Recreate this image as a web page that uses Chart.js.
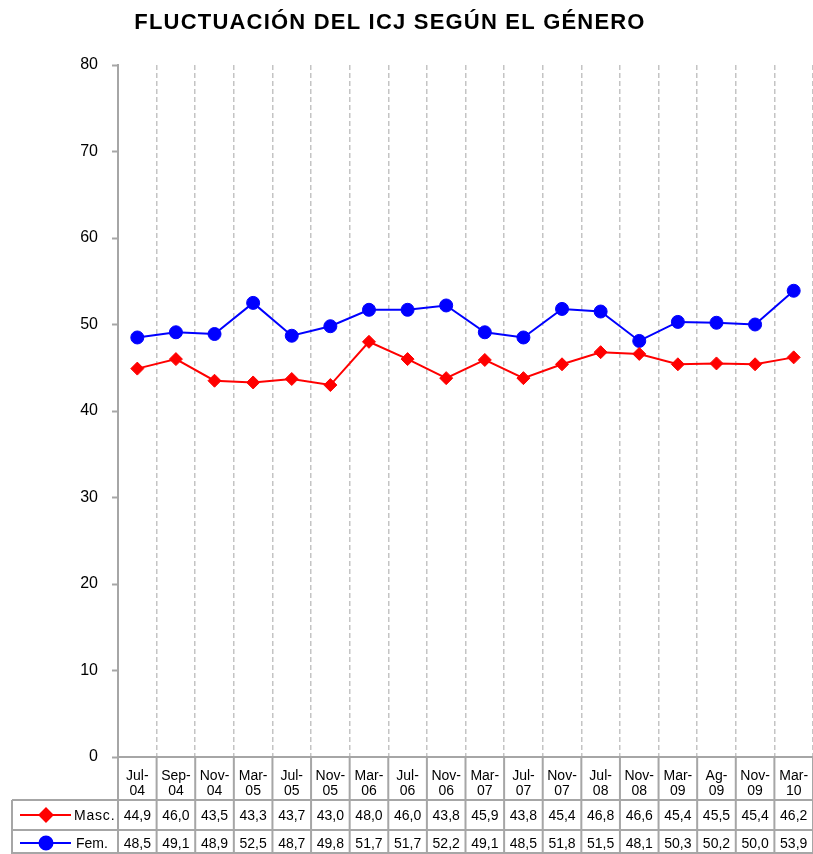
<!DOCTYPE html>
<html>
<head>
<meta charset="utf-8">
<script src="https://cdn.jsdelivr.net/npm/chart.js@4/dist/chart.umd.min.js"></script>
<style>
  html, body { margin: 0; padding: 0; background: #fff; }
</style>
</head>
<body>
<canvas id="myChart" width="813" height="854"></canvas>
<script>
// Etichette delle categorie (asse x)
var categorie = [
  ["Jul-", "04"], ["Sep-", "04"], ["Nov-", "04"], ["Mar-", "05"], ["Jul-", "05"],
  ["Nov-", "05"], ["Mar-", "06"], ["Jul-", "06"], ["Nov-", "06"], ["Mar-", "07"],
  ["Jul-", "07"], ["Nov-", "07"], ["Jul-", "08"], ["Nov-", "08"], ["Mar-", "09"],
  ["Ag-", "09"], ["Nov-", "09"], ["Mar-", "10"]
];

// Valori delle due serie
var masc = [44.9, 46.0, 43.5, 43.3, 43.7, 43.0, 48.0, 46.0, 43.8, 45.9, 43.8, 45.4, 46.8, 46.6, 45.4, 45.5, 45.4, 46.2];
var fem = [48.5, 49.1, 48.9, 52.5, 48.7, 49.8, 51.7, 51.7, 52.2, 49.1, 48.5, 51.8, 51.5, 48.1, 50.3, 50.2, 50.0, 53.9];

var nomiSerie = ["Masc.", "Fem."];
var titolo = "FLUCTUACIÓN DEL ICJ SEGÚN EL GÉNERO";

var grigio = "#a6a6a6";

// Plugin che disegna titolo e tabella dati sotto il grafico
var tabellaDati = {
  id: "tabellaDati",
  afterDraw: function (chart) {
    var ctx = chart.ctx;
    var xs = chart.scales.x;
    var top = chart.chartArea.bottom;
    var n = categorie.length;
    var half = (xs.getPixelForValue(1) - xs.getPixelForValue(0)) / 2;
    var riga1 = 800, riga2 = 830, fondo = 854;

    ctx.save();
    // titolo
    ctx.fillStyle = "#000";
    ctx.font = "bold 22px Arial, 'Liberation Sans', sans-serif";
    ctx.letterSpacing = "1.2px";
    ctx.textAlign = "center";
    ctx.textBaseline = "middle";
    ctx.fillText(titolo, 390, 23);
    ctx.letterSpacing = "0px";

    // bordi tabella
    ctx.strokeStyle = grigio;
    ctx.lineWidth = 2;
    ctx.beginPath();
    for (var i = 0; i <= n; i++) {
      var bx = xs.getPixelForValue(0) - half + i * 2 * half;
      ctx.moveTo(bx, top);
      ctx.lineTo(bx, fondo);
    }
    ctx.moveTo(12, riga1); ctx.lineTo(chart.width, riga1);
    ctx.moveTo(12, riga2); ctx.lineTo(chart.width, riga2);
    ctx.moveTo(12, riga1); ctx.lineTo(12, fondo);
    ctx.moveTo(12, fondo - 1); ctx.lineTo(chart.width, fondo - 1);
    ctx.stroke();

    // valori
    ctx.fillStyle = "#000";
    ctx.font = "14px Arial, 'Liberation Sans', sans-serif";
    ctx.textAlign = "center";
    ctx.textBaseline = "middle";
    var serie = [masc, fem];
    var yRighe = [816, 844];
    serie.forEach(function (valori, s) {
      valori.forEach(function (v, i) {
        ctx.fillText(v.toFixed(1).replace(".", ","), xs.getPixelForValue(i), yRighe[s]);
      });
    });

    // legenda dentro la tabella
    var ds = chart.data.datasets;
    ds.forEach(function (d, s) {
      var y = yRighe[s] - 1;
      ctx.strokeStyle = d.borderColor;
      ctx.lineWidth = 2;
      ctx.beginPath();
      ctx.moveTo(20, y);
      ctx.lineTo(71, y);
      ctx.stroke();
      Chart.helpers.drawPoint(ctx, {
        pointStyle: d.pointStyle,
        radius: d.pointRadius,
        borderWidth: 1
      }, 46, y);
      ctx.fillStyle = d.borderColor;
      ctx.fill();
      ctx.fillStyle = "#000";
      ctx.textAlign = "left";
      ctx.letterSpacing = s === 0 ? "0.8px" : "0px";
      ctx.fillText(nomiSerie[s], s === 0 ? 74 : 76, yRighe[s]);
      ctx.letterSpacing = "0px";
    });
    ctx.restore();
  }
};

new Chart("myChart", {
  type: "line",
  data: {
    labels: categorie,
    datasets: [
      {
        label: nomiSerie[0],
        data: masc,
        borderColor: "#ff0000",
        backgroundColor: "#ff0000",
        borderWidth: 2,
        pointStyle: "rectRot",
        pointRadius: 6.5,
        pointBorderWidth: 1,
        tension: 0
      },
      {
        label: nomiSerie[1],
        data: fem,
        borderColor: "#0000ff",
        backgroundColor: "#0000ff",
        borderWidth: 2,
        pointStyle: "circle",
        pointRadius: 6.5,
        pointBorderWidth: 1,
        tension: 0
      }
    ]
  },
  options: {
    responsive: false,
    animation: false,
    layout: { autoPadding: false, padding: { top: 65, left: 0, right: 0, bottom: 0 } },
    plugins: {
      legend: { display: false },
      title: { display: false },
      tooltip: { enabled: false }
    },
    scales: {
      x: {
        offset: true,
        afterFit: function (scale) {
          scale.height = 97;
          // niente spazio extra ai lati per le etichette
          scale.paddingLeft = 0;
          scale.paddingRight = 0;
        },
        grid: {
          offset: true,
          drawTicks: false,
          color: function (c) { return c.index === 0 ? "transparent" : "#c4c4c4"; },
          lineWidth: 1.5
        },
        border: { display: true, color: grigio, width: 2, dash: [5, 3] },
        ticks: {
          color: "#000",
          padding: 11,
          maxRotation: 0,
          autoSkip: false,
          font: { family: "Arial, 'Liberation Sans', sans-serif", size: 14, lineHeight: 1.1 }
        }
      },
      y: {
        min: 0,
        max: 80,
        afterFit: function (scale) { scale.width = 118; },
        grid: {
          drawOnChartArea: false,
          drawTicks: true,
          tickLength: 6,
          tickColor: grigio,
          tickWidth: 2
        },
        border: { display: true, color: grigio, width: 2 },
        ticks: {
          stepSize: 10,
          color: "#000",
          padding: 14,
          font: { family: "Arial, 'Liberation Sans', sans-serif", size: 16 }
        }
      }
    }
  },
  plugins: [tabellaDati]
});
</script>
</body>
</html>
